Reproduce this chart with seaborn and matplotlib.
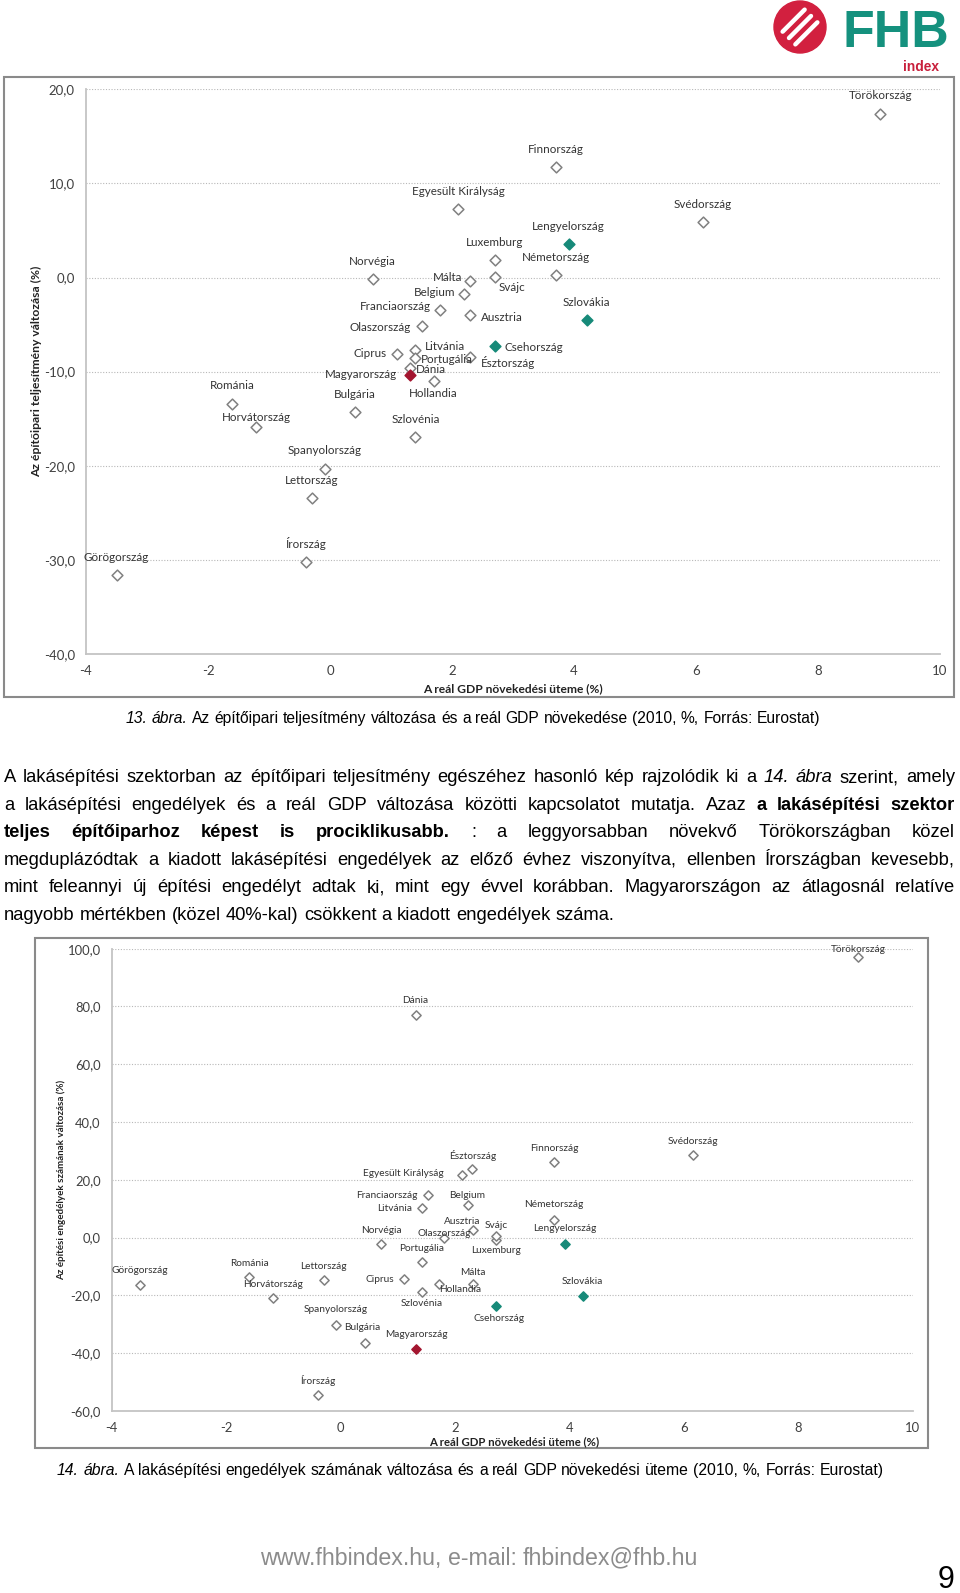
import numpy as np
import pandas as pd
import matplotlib
matplotlib.use("Agg")
import matplotlib.pyplot as plt
from matplotlib import font_manager as fm
from matplotlib.patches import Rectangle, Circle
from matplotlib.ticker import FuncFormatter
import seaborn as sns

sns.set_style("white")

# values (2010, %)
countries = ["Törökország", "Finnország", "Egyesült Királyság", "Svédország", "Lengyelország",
             "Luxemburg", "Németország", "Svájc", "Norvégia", "Málta", "Belgium", "Franciaország",
             "Ausztria", "Szlovákia", "Olaszország", "Csehország", "Litvánia", "Ciprus", "Észtország",
             "Portugália", "Dánia", "Magyarország", "Hollandia", "Románia", "Bulgária", "Horvátország",
             "Szlovénia", "Spanyolország", "Lettország", "Írország", "Görögország"]

# 13. ábra: GDP growth vs construction output change
gdp_13 = [9.02, 3.70, 2.10, 6.11, 3.91, 2.70, 3.70, 2.70, 0.70, 2.30, 2.20, 1.80, 2.30, 4.21, 1.51,
          2.70, 1.40, 1.10, 2.30, 1.40, 1.31, 1.31, 1.70, -1.60, 0.41, -1.21, 1.40, -0.09, -0.30,
          -0.40, -3.50]
constr_13 = [17.4, 11.7, 7.3, 5.9, 3.6, 1.9, 0.3, 0.1, -0.2, -0.4, -1.7, -3.5, -4.0, -4.5, -5.2,
             -7.3, -7.7, -8.1, -8.4, -8.5, -9.6, -10.4, -11.0, -13.4, -14.3, -15.9, -16.9, -20.3,
             -23.4, -30.2, -31.6]

# 14. ábra: GDP growth vs building permits change
gdp_14 = [9.04, 3.73, 2.12, 6.15, 3.92, 2.72, 3.73, 2.72, 0.71, 2.31, 2.23, 1.52, 2.31, 4.23, 1.81,
          2.72, 1.42, 1.11, 2.30, 1.42, 1.31, 1.32, 1.72, -1.60, 0.42, -1.19, 1.42, -0.08, -0.29,
          -0.39, -3.51]
permits_14 = [97.1, 26.3, 21.7, 28.6, -2.2, -0.7, 6.2, 0.6, -2.3, -15.9, 11.4, 14.9, 2.8, -20.2,
              -0.1, -23.6, 10.2, -14.4, 23.7, -8.5, 77.2, -38.6, -16.0, -13.7, -36.3, -20.9, -18.9,
              -30.1, -14.8, -54.4, -16.3]

teal_countries = ["Lengyelország", "Szlovákia", "Csehország"]
hu_country = "Magyarország"

# label placement (pixel offsets from the marker, alignment)
lab_13 = {"Törökország": (0, 18, "center"), "Finnország": (0, 18, "center"),
          "Egyesült Királyság": (0, 17, "center"), "Svédország": (0, 18, "center"),
          "Lengyelország": (0, 17, "center"), "Luxemburg": (0, 17, "center"),
          "Németország": (0, 17, "center"), "Svájc": (4, -11, "left"),
          "Norvégia": (0, 18, "center"), "Málta": (-8, 4, "right"), "Belgium": (-9, 1, "right"),
          "Franciaország": (-9, 4, "right"), "Ausztria": (11, -2, "left"),
          "Szlovákia": (0, 17, "center"), "Olaszország": (-11, -1, "right"),
          "Csehország": (10, -1, "left"), "Litvánia": (9, 4, "left"), "Ciprus": (-10, 0, "right"),
          "Észtország": (11, -6, "left"), "Portugália": (5, -2, "left"), "Dánia": (6, -2, "left"),
          "Magyarország": (-13, 1, "right"), "Hollandia": (0, -12, "center"),
          "Románia": (0, 18, "center"), "Bulgária": (0, 18, "center"),
          "Horvátország": (0, 10, "center"), "Szlovénia": (0, 17, "center"),
          "Spanyolország": (0, 18, "center"), "Lettország": (0, 17, "center"),
          "Írország": (0, 18, "center"), "Görögország": (0, 17, "center")}
lab_14 = {"Törökország": (0, 8, "center"), "Finnország": (0, 13, "center"),
          "Egyesült Királyság": (-18, 1, "right"), "Svédország": (0, 14, "center"),
          "Lengyelország": (0, 15, "center"), "Luxemburg": (0, -11, "center"),
          "Németország": (0, 15, "center"), "Svájc": (0, 10, "center"),
          "Norvégia": (0, 14, "center"), "Málta": (0, 11, "center"), "Belgium": (-1, 9, "center"),
          "Franciaország": (-10, -1, "right"), "Ausztria": (-11, 8, "center"),
          "Szlovákia": (0, 15, "center"), "Olaszország": (0, 4, "center"),
          "Csehország": (3, -13, "center"), "Litvánia": (-10, 0, "right"),
          "Ciprus": (-10, 0, "right"), "Észtország": (0, 14, "center"),
          "Portugália": (0, 14, "center"), "Dánia": (0, 14, "center"),
          "Magyarország": (0, 15, "center"), "Hollandia": (0, -6, "left"),
          "Románia": (0, 14, "center"), "Bulgária": (-21, 15, "left"),
          "Horvátország": (0, 14, "center"), "Szlovénia": (0, -11, "center"),
          "Spanyolország": (0, 15, "center"), "Lettország": (-1, 14, "center"),
          "Írország": (0, 14, "center"), "Görögország": (0, 14, "center")}


def pick(*names):
    avail = {f.name for f in fm.fontManager.ttflist}
    for n in names:
        if n in avail:
            return n
    return "DejaVu Sans"


NARROW = pick("Liberation Sans Narrow", "Liberation Sans")
CAL = pick("Lato", "Open Sans", "DejaVu Sans")
plt.rcParams["font.family"] = [CAL, "DejaVu Sans"]
plt.rcParams["axes.unicode_minus"] = False

W, H = 960, 1593
fig = plt.figure(figsize=(W / 100, H / 100), dpi=100)
page = fig.add_axes([0, 0, 1, 1], zorder=0)
page.set_xlim(0, W)
page.set_ylim(H, 0)
page.axis("off")
R = fig.canvas.get_renderer()

STY = {"n": {}, "b": {"fontweight": "bold"}, "i": {"fontstyle": "italic"}}


def tw(s, **kw):
    t = page.text(0, 0, s, **kw)
    w = t.get_window_extent(R).width
    t.remove()
    return w


def fit(s, target, **kw):
    return 10 * target / tw(s, fontsize=10, **kw)


def words_of(segs):
    return [(w, st) for txt, st in segs for w in txt.split()]


def natural(segs, size, family=NARROW):
    words = words_of(segs)
    ws = [tw(w, fontsize=size, family=family, **STY[st]) for w, st in words]
    sp = tw("n n", fontsize=size, family=family) - tw("nn", fontsize=size, family=family)
    return sum(ws) + sp * (len(words) - 1)


def draw_line(segs, x0, yc, size, width=None, family=NARROW, color="black"):
    words = words_of(segs)
    ws = [tw(w, fontsize=size, family=family, **STY[st]) for w, st in words]
    sp = tw("n n", fontsize=size, family=family) - tw("nn", fontsize=size, family=family)
    gap = sp if width is None else (width - sum(ws)) / (len(words) - 1)
    base = yc + 0.34 * size * 100 / 72
    x = x0
    for (w, st), wd in zip(words, ws):
        page.text(x, base, w, fontsize=size, family=family, color=color,
                  ha="left", va="baseline", **STY[st])
        x += wd + gap


def px_axes(x0, y0, x1, y1):
    ax = fig.add_axes([x0 / W, 1 - y1 / H, (x1 - x0) / W, (y1 - y0) / H], zorder=2)
    ax.patch.set_alpha(0)
    return ax


def scatter_chart(ax, xs, ys, labels, ylim, yticks, tick_fs, lab_fs, msize):
    df = pd.DataFrame({"country": countries, "gdp": xs, "val": ys})
    df["grp"] = np.where(df["country"].isin(teal_countries), "teal",
                         np.where(df["country"] == hu_country, "hu", "other"))
    looks = {"other": ("white", "#808080"), "teal": ("#178a79", "#178a79"),
             "hu": ("#a3152f", "#a3152f")}
    for g, (fc, ec) in looks.items():
        sns.scatterplot(data=df[df["grp"] == g], x="gdp", y="val", marker="D", s=msize,
                        color=fc, edgecolor=ec, linewidth=1.1, ax=ax, zorder=4, legend=False)
    for _, r in df.iterrows():
        dx, dy, ha = labels[r["country"]]
        ax.annotate(r["country"], (r["gdp"], r["val"]), xytext=(dx, dy),
                    textcoords="offset pixels", ha=ha, va="center", fontsize=lab_fs,
                    color="#333333", zorder=5)
    ax.set_xlim(-4, 10)
    ax.set_ylim(*ylim)
    ax.set_xticks(range(-4, 11, 2))
    ax.set_yticks(yticks)
    ax.yaxis.set_major_formatter(FuncFormatter(lambda v, p: f"{v:.1f}".replace(".", ",")))
    ax.set_xlabel("")
    ax.set_ylabel("")
    for s in ["top", "right"]:
        ax.spines[s].set_visible(False)
    for s in ["left", "bottom"]:
        ax.spines[s].set_color("#c4c4c4")
        ax.spines[s].set_linewidth(1.3)
    ax.grid(axis="y", color="#b8b8b8", linestyle=(0, (1, 1.5)), linewidth=0.8)
    ax.grid(axis="x", visible=False)
    ax.tick_params(direction="out", length=3, width=1, color="#c4c4c4", labelsize=tick_fs,
                   labelcolor="#404040", pad=5)


# ---- logo
page.add_patch(Circle((800, 27), 26, color="#d2203f", zorder=3))
for off in (-9, 0, 9):
    cx, cy = 800 + off * 0.707, 27 + off * 0.707
    page.plot([cx - 11, cx + 11], [cy + 11, cy - 11], color="white", lw=3.2,
              solid_capstyle="round", zorder=4)
page.text(842, 47, "FHB", fontsize=fit("FHB", 106, family="Liberation Sans", fontweight="bold"),
          family="Liberation Sans", fontweight="bold", color="#15917e", va="baseline")
page.text(903, 71, "index", fontsize=fit("index", 36, family="Liberation Sans", fontweight="bold"),
          family="Liberation Sans", fontweight="bold", color="#c8203c", va="baseline")

# ---- chart 13
page.add_patch(Rectangle((4, 77), 950, 620, fill=False, edgecolor="#8a8a8a", lw=1.5))
ax1 = px_axes(86, 89.3, 940, 654)
scatter_chart(ax1, gdp_13, constr_13, lab_13, (-40, 20), range(-40, 21, 10),
              fit("20,0", 26), fit("Egyesült Királyság", 92), 30)
yl1 = "Az építőipari teljesítmény változása (%)"
page.text(36.5, 371.7, yl1, rotation=90, ha="center", va="center", fontweight="bold",
          fontsize=fit(yl1, 210, fontweight="bold"), color="#222222")
xl = "A reál GDP növekedési üteme (%)"
page.text(513, 689, xl, ha="center", va="center", fontweight="bold",
          fontsize=fit(xl, 181, fontweight="bold"), color="#222222")

cap1 = [("13. ábra.", "i"),
        ("Az építőipari teljesítmény változása és a reál GDP növekedése (2010, %, Forrás: Eurostat)", "n")]
draw_line(cap1, 125.5, 718, 10 * 698 / natural(cap1, 10))

# ---- paragraph
para = [
    [("A lakásépítési szektorban az építőipari teljesítmény egészéhez hasonló kép rajzolódik ki a", "n"),
     ("14. ábra", "i"), ("szerint, amely", "n")],
    [("a lakásépítési engedélyek és a reál GDP változása közötti kapcsolatot mutatja. Azaz", "n"),
     ("a lakásépítési szektor", "b")],
    [("teljes építőiparhoz képest is prociklikusabb.", "b"),
     (": a leggyorsabban növekvő Törökországban közel", "n")],
    [("megduplázódtak a kiadott lakásépítési engedélyek az előző évhez viszonyítva, ellenben Írországban kevesebb,", "n")],
    [("mint feleannyi új építési engedélyt adtak ki, mint egy évvel korábban. Magyarországon az átlagosnál relatíve", "n")],
    [("nagyobb mértékben (közel 40%-kal) csökkent a kiadott engedélyek száma.", "n")],
]
psize = 1.08 * 10 * 627 / natural(para[-1], 10)
psize = min([psize] + [10 * 925 / natural(segs, 10) for segs in para[:-1]])
for i, segs in enumerate(para):
    yc = 776 + i * 27.5
    draw_line(segs, 4, yc, psize, width=None if i == len(para) - 1 else 951)

# ---- chart 14
page.add_patch(Rectangle((35, 938), 893, 510, fill=False, edgecolor="#8a8a8a", lw=1.5))
ax2 = px_axes(111.7, 948.7, 913, 1411)
scatter_chart(ax2, gdp_14, permits_14, lab_14, (-60, 100), range(-60, 101, 20),
              fit("100,0", 33), fit("Egyesült Királyság", 80), 22)
yl2 = "Az építési engedélyek számának változása (%)"
page.text(61.5, 1180, yl2, rotation=90, ha="center", va="center", fontweight="bold",
          fontsize=fit(yl2, 200, fontweight="bold"), color="#222222")
page.text(514, 1441.7, xl, ha="center", va="center", fontweight="bold",
          fontsize=fit(xl, 170, fontweight="bold"), color="#222222")

cap2 = [("14. ábra.", "i"),
        ("A lakásépítési engedélyek számának változása és a reál GDP növekedési üteme (2010, %, Forrás: Eurostat)", "n")]
draw_line(cap2, 57, 1470, 10 * 829 / natural(cap2, 10))

# ---- footer
foot = [("www.fhbindex.hu, e-mail: fhbindex@fhb.hu", "n")]
draw_line(foot, 260, 1557, 10 * 440 / natural(foot, 10), color="#8c8c8c")
page.text(946, 1580, "9", ha="center", va="center", family=NARROW, fontsize=22, color="black")

fig.savefig("out.png", dpi=100)
